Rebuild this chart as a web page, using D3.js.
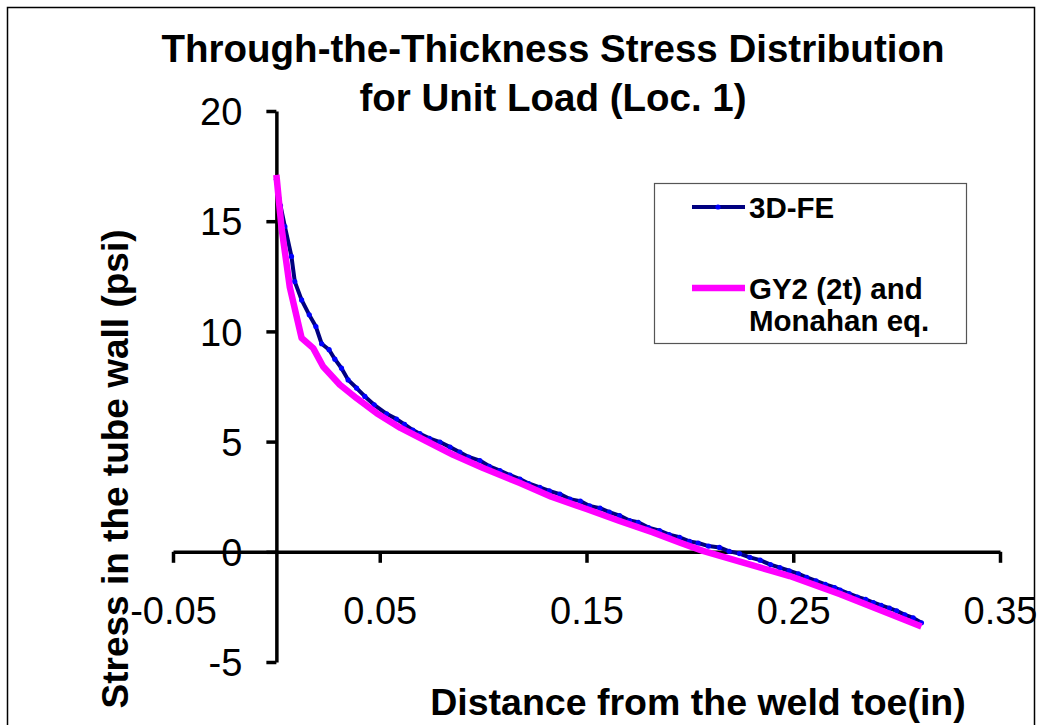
<!DOCTYPE html>
<html>
<head>
<meta charset="utf-8">
<script src="https://cdn.jsdelivr.net/npm/d3@7"></script>
<style>
  body { margin: 0; background: #fff; }
  svg { display: block; font-family: Arial, "Liberation Sans", sans-serif; }
</style>
</head>
<body>
<div id="chart"></div>
<script>
// 3D-FE results (distance in, stress psi)
const feX = [0, 0.002, 0.0041, 0.0073, 0.0089, 0.0122, 0.0159, 0.0191, 0.0219, 0.0255,
  0.0283, 0.0315, 0.0347, 0.0388, 0.0428, 0.0473, 0.0533, 0.0581, 0.062, 0.066,
  0.0694, 0.074, 0.0791, 0.084, 0.0887, 0.093, 0.0984, 0.103, 0.1081, 0.113,
  0.1178, 0.122, 0.1274, 0.132, 0.1371, 0.142, 0.147, 0.1515, 0.1565, 0.161,
  0.166, 0.1708, 0.175, 0.18, 0.1853, 0.19, 0.195, 0.1998, 0.204, 0.209,
  0.2143, 0.219, 0.224, 0.229, 0.234, 0.239, 0.2435, 0.248, 0.2525, 0.2565,
  0.261, 0.2655, 0.27, 0.2727, 0.277, 0.281, 0.285, 0.2887, 0.2925, 0.2965,
  0.3, 0.304, 0.308, 0.312];
const feY = [16.9, 15.7, 14.76, 13.4, 12.26, 11.43, 10.75, 10.22, 9.44, 9.17,
  8.74, 8.33, 7.8, 7.43, 7.05, 6.67, 6.26, 6.02, 5.78, 5.52,
  5.36, 5.15, 4.98, 4.75, 4.52, 4.3, 4.14, 3.88, 3.68, 3.48,
  3.3, 3.1, 2.92, 2.76, 2.62, 2.39, 2.3, 2.08, 1.98, 1.8,
  1.64, 1.42, 1.34, 1.1, 0.96, 0.78, 0.66, 0.47, 0.4, 0.26,
  0.2, 0.02, -0.08, -0.25, -0.38, -0.58, -0.72, -0.86, -1.0, -1.16,
  -1.32, -1.48, -1.62, -1.74, -1.9, -2.05, -2.16, -2.3, -2.43, -2.56,
  -2.68, -2.86, -3.0, -3.22];

// GY2 (2t) and Monahan equation
const gyX = [0, 0.0025, 0.0065, 0.0122, 0.0178, 0.0226, 0.0307, 0.0388, 0.0485, 0.06,
  0.072, 0.0855, 0.1, 0.1178, 0.133, 0.15, 0.166, 0.1822, 0.195, 0.2063,
  0.2242, 0.24, 0.2483, 0.2727, 0.2968, 0.312];
const gyY = [17.1, 14.7, 12.0, 9.7, 9.24, 8.41, 7.58, 6.97, 6.29, 5.62,
  5.05, 4.4, 3.8, 3.12, 2.5, 1.94, 1.4, 0.88, 0.42, 0.04,
  -0.45, -0.88, -1.1, -1.92, -2.82, -3.39];

const xTicks = [-0.05, 0.05, 0.15, 0.25, 0.35];
const xTickLabels = ["-0.05", "0.05", "0.15", "0.25", "0.35"];
const yTicks = [-5, 0, 5, 10, 15, 20];
const yTickLabels = ["-5", "0", "5", "10", "15", "20"];
const titleLines = ["Through-the-Thickness Stress Distribution", "for Unit Load (Loc. 1)"];
const legendLabels = [["3D-FE"], ["GY2 (2t) and", "Monahan eq."]];

const W = 1042, H = 725;
const svg = d3.select('#chart').append('svg')
  .attr('width', W).attr('height', H);

// figure frame
svg.append('rect')
  .attr('x', 7.5).attr('y', 7.5).attr('width', 1027).attr('height', 760)
  .attr('fill', '#fff').attr('stroke', '#000').attr('stroke-width', 1.5);

const x = d3.scaleLinear().domain([-0.05, 0.35]).range([173, 1000]);
const y = d3.scaleLinear().domain([-5, 20]).range([662, 111]);

// title
svg.append('text')
  .attr('x', 553).attr('text-anchor', 'middle')
  .style('font-size', '38.5px').style('font-weight', 'bold')
  .selectAll('tspan').data(titleLines).enter().append('tspan')
  .attr('x', 553).attr('y', (d, i) => 62 + i * 49)
  .text(d => d);

// x axis, crossing at y = 0
const xAxis = svg.append('g')
  .attr('transform', `translate(0,${y(0)})`)
  .call(d3.axisBottom(x).tickValues(xTicks).tickSizeInner(11).tickSizeOuter(0)
    .tickPadding(34).tickFormat((d, i) => xTickLabels[i]));

// y axis, crossing at x = 0
const yAxis = svg.append('g')
  .attr('transform', `translate(${x(0)},0)`)
  .call(d3.axisLeft(y).tickValues(yTicks).tickSizeInner(10).tickSizeOuter(0)
    .tickPadding(24).tickFormat((d, i) => yTickLabels[i]));

[xAxis, yAxis].forEach(g => {
  g.attr('font-family', null).attr('font-size', null);
  g.select('.domain').attr('stroke', '#000').attr('stroke-width', 3.5);
  g.selectAll('.tick line').attr('stroke', '#000').attr('stroke-width', 3.5);
  g.selectAll('.tick text').attr('fill', '#000').style('font-size', '38px');
});
yAxis.selectAll('.tick text').attr('dy', '0.36em');

// axis titles
svg.append('text')
  .attr('x', 698).attr('y', 715).attr('text-anchor', 'middle')
  .style('font-size', '37.5px').style('font-weight', 'bold')
  .text('Distance from the weld toe(in)');

svg.append('text')
  .attr('transform', 'translate(128,469) rotate(-90)')
  .attr('text-anchor', 'middle')
  .style('font-size', '37px').style('font-weight', 'bold')
  .text('Stress in the tube wall (psi)');

// series
const feData = feX.map((v, i) => [v, feY[i]]);
const gyData = gyX.map((v, i) => [v, gyY[i]]);
const line = d3.line().x(d => x(d[0])).y(d => y(d[1]));

svg.append('path').datum(feData)
  .attr('d', line).attr('fill', 'none')
  .attr('stroke', '#000080').attr('stroke-width', 4).attr('stroke-linejoin', 'round');

svg.append('g').selectAll('circle').data(feData).enter().append('circle')
  .attr('cx', d => x(d[0])).attr('cy', d => y(d[1])).attr('r', 2.6)
  .attr('fill', '#0000ff');

svg.append('path').datum(gyData)
  .attr('d', line).attr('fill', 'none')
  .attr('stroke', '#ff00ff').attr('stroke-width', 6.5).attr('stroke-linejoin', 'round');

// legend
const legend = svg.append('g');
legend.append('rect')
  .attr('x', 654.5).attr('y', 183.5).attr('width', 312).attr('height', 160)
  .attr('fill', '#fff').attr('stroke', '#555').attr('stroke-width', 1.2);

const legendRows = [
  {color: '#000080', width: 4, y: 207, marker: true},
  {color: '#ff00ff', width: 6.5, y: 288, marker: false}
];
legendRows.forEach((r, i) => {
  legend.append('line')
    .attr('x1', 692).attr('x2', 745).attr('y1', r.y).attr('y2', r.y)
    .attr('stroke', r.color).attr('stroke-width', r.width);
  if (r.marker) {
    legend.append('circle').attr('cx', 718).attr('cy', r.y).attr('r', 2.6).attr('fill', '#0000ff');
  }
  legend.append('text')
    .style('font-size', '29.5px').style('font-weight', 'bold')
    .selectAll('tspan').data(legendLabels[i]).enter().append('tspan')
    .attr('x', 749).attr('y', (d, j) => r.y + 11 + j * 32)
    .text(d => d);
});
</script>
</body>
</html>
